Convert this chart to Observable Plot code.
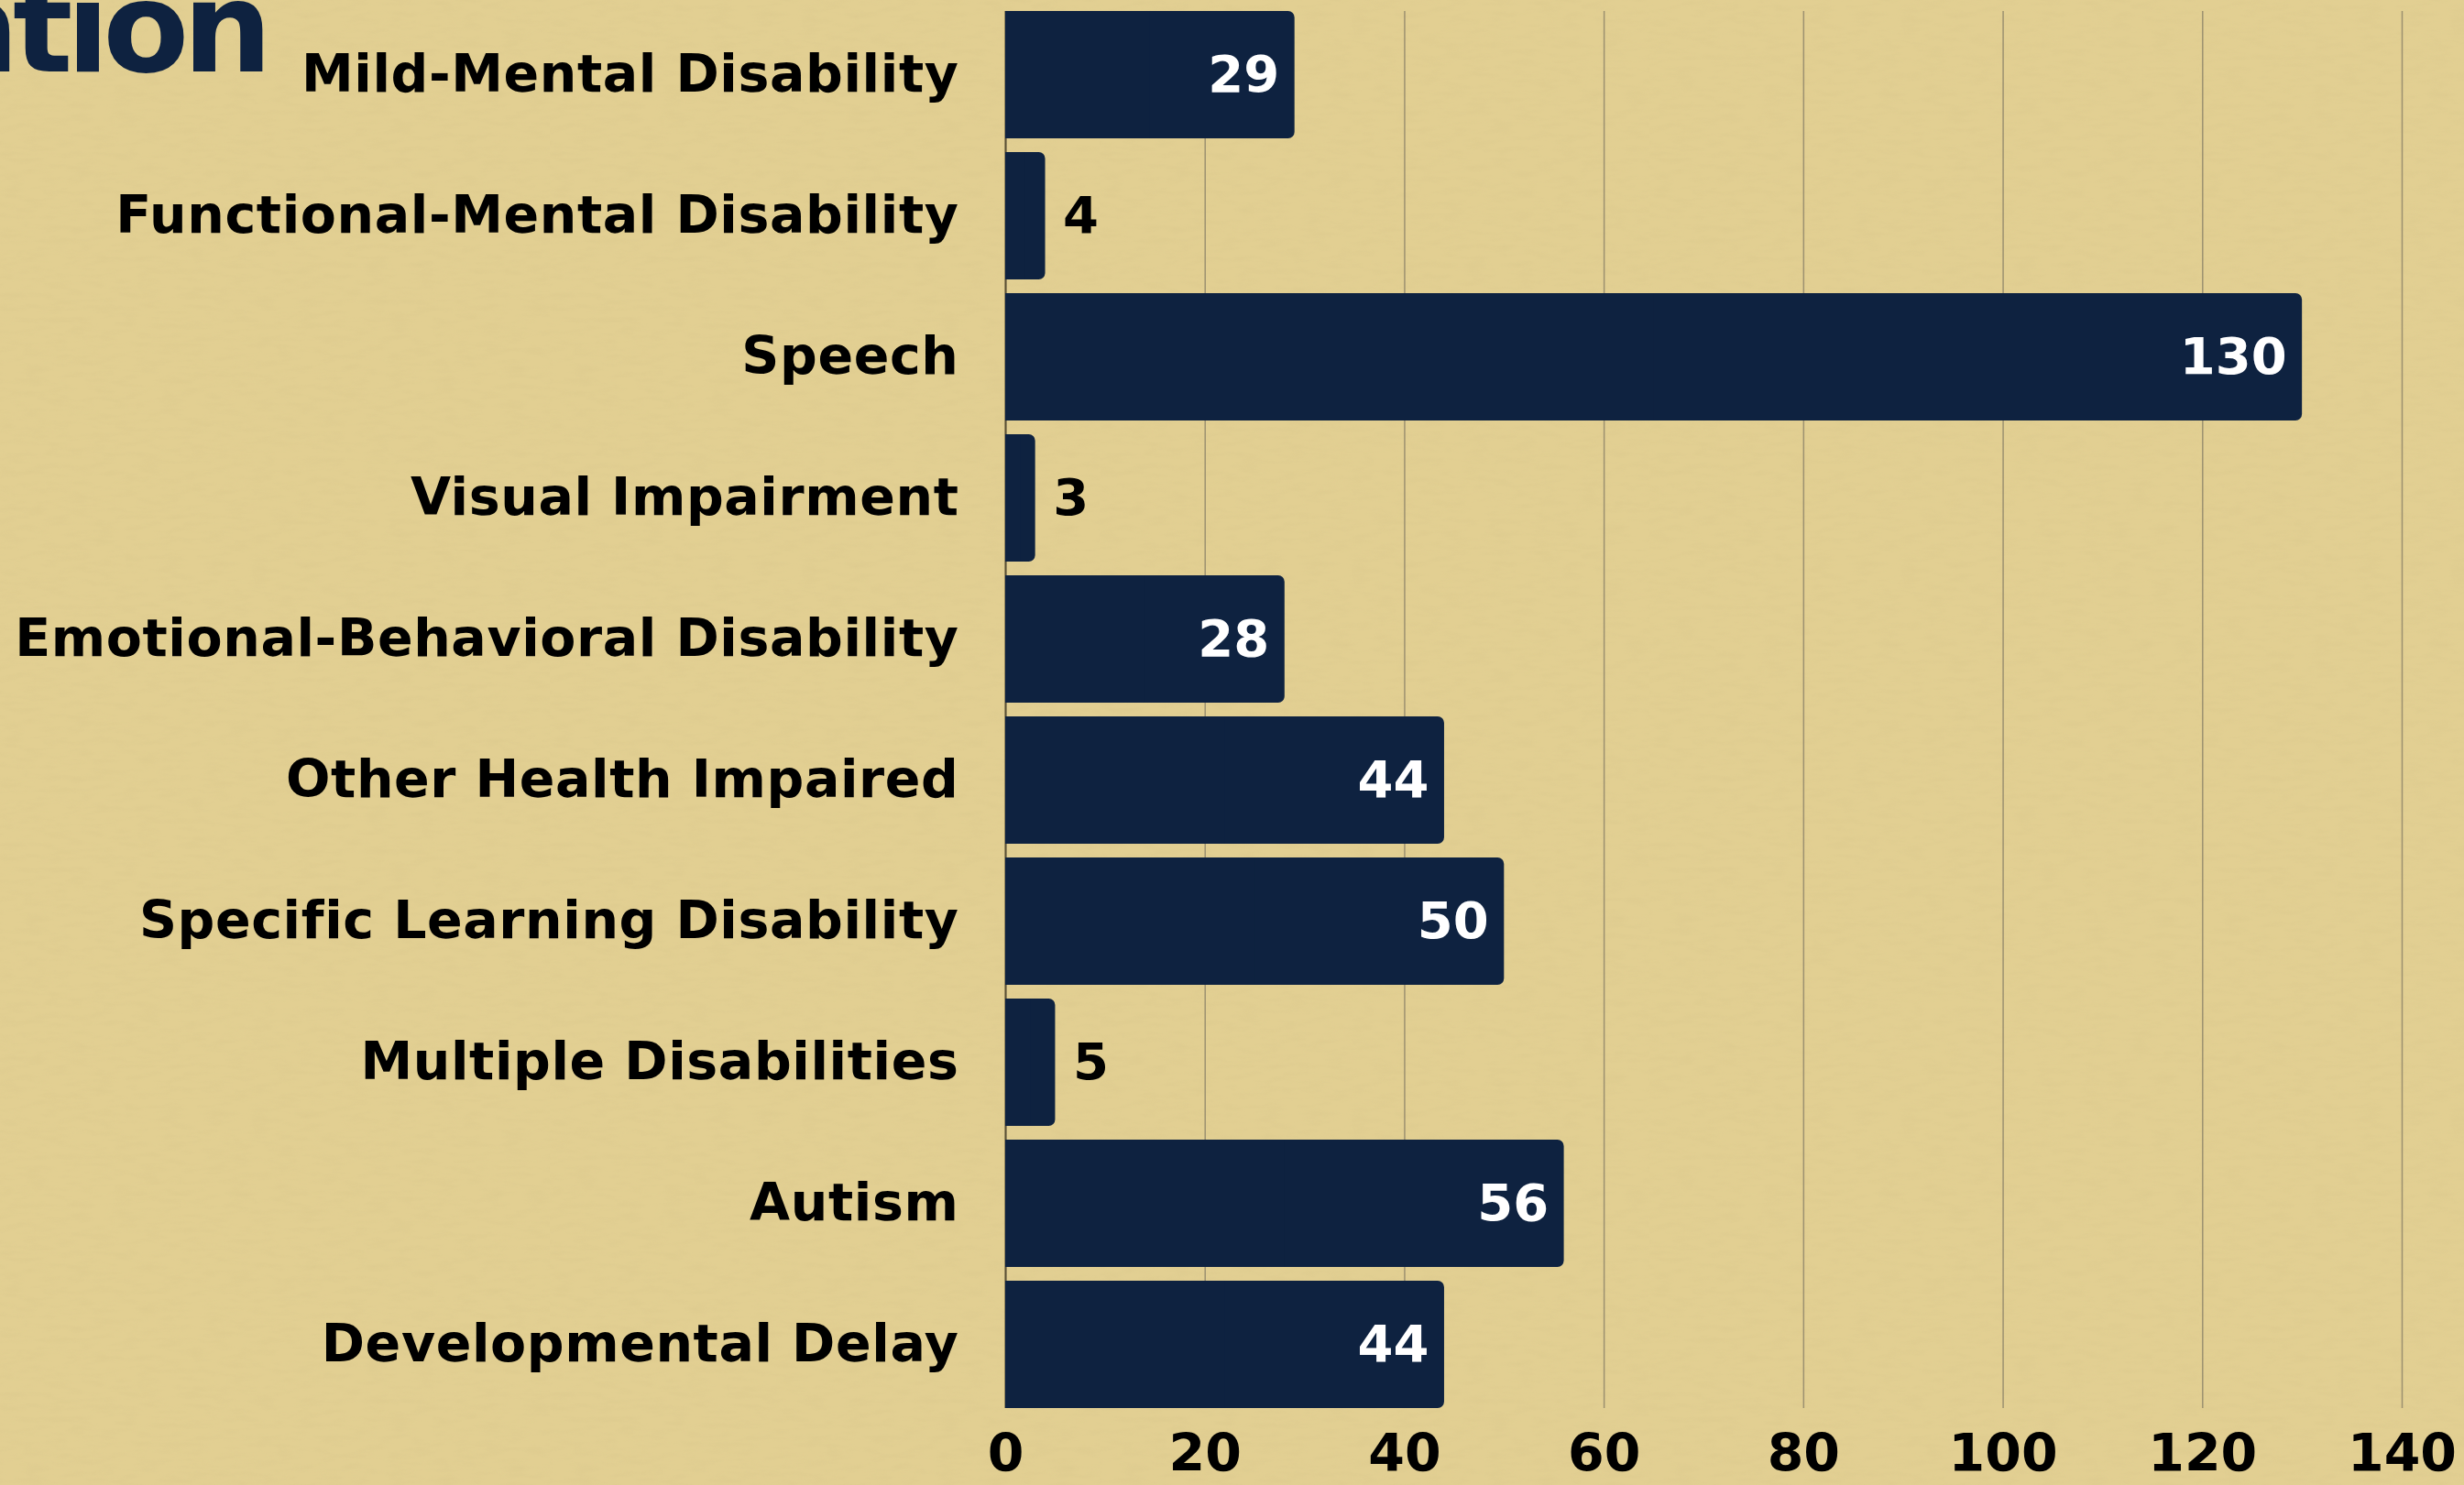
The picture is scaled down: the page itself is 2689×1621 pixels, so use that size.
<!DOCTYPE html>
<html>
<head>
<meta charset="utf-8">
<script src="https://cdn.jsdelivr.net/npm/d3@7"></script>
<script src="https://cdn.jsdelivr.net/npm/@observablehq/plot@0.6"></script>
<style>
  html, body { margin: 0; padding: 0; }
  body {
    width: 2689px; height: 1621px; overflow: hidden; position: relative;
    background-color: #e2cf92;
    background-image: url("data:image/svg+xml;utf8,<svg xmlns='http://www.w3.org/2000/svg' width='600' height='600'><filter id='n'><feTurbulence type='fractalNoise' baseFrequency='0.04 0.15' numOctaves='3' seed='4'/><feColorMatrix values='0 0 0 0 0.55  0 0 0 0 0.45  0 0 0 0 0.2  0 0 0 0.9 -0.35'/></filter><rect width='600' height='600' filter='url(%23n)' opacity='0.25'/></svg>");
  }
  #title {
    position: absolute; top: -38px; right: calc(100% - 290px);
    font-family: "DejaVu Sans", sans-serif; font-weight: bold;
    font-size: 137px; line-height: 1; letter-spacing: -7px;
    color: #0e2240; white-space: nowrap;
  }
  #chart { position: absolute; left: 0; top: 0; }
  #chart svg g[aria-label="y-axis tick label"] text { letter-spacing: 0.6px; }
</style>
</head>
<body>
<div id="title">Special Education</div>
<div id="chart"></div>
<script>
const categories = [
  "Mild-Mental Disability",
  "Functional-Mental Disability",
  "Speech",
  "Visual Impairment",
  "Emotional-Behavioral Disability",
  "Other Health Impaired",
  "Specific Learning Disability",
  "Multiple Disabilities",
  "Autism",
  "Developmental Delay"
];
const values = [29, 4, 130, 3, 28, 44, 50, 5, 56, 44];
const xTicks = [0, 20, 40, 60, 80, 100, 120, 140];

const data = categories.map((c, i) => ({category: c, value: values[i]}));
const inside = data.filter(d => d.value >= 10);
const outside = data.filter(d => d.value < 10);

const navy = "#0e2240";

const chart = Plot.plot({
  width: 2689,
  height: 1621,
  marginLeft: 1097,
  marginRight: 68,
  marginTop: 12,
  marginBottom: 84,
  style: {
    background: "transparent",
    fontFamily: "'DejaVu Sans', sans-serif",
    fontWeight: "bold",
    fontSize: "57px",
    color: "#000"
  },
  x: {domain: [0, 140], ticks: xTicks, label: null},
  y: {domain: categories, paddingInner: 0.1, paddingOuter: 0, round: true, label: null},
  marks: [
    Plot.gridX(xTicks, {stroke: "#9c9170", strokeOpacity: 1, strokeWidth: 1.5}),
    Plot.ruleX([0], {stroke: "#5a5034", strokeWidth: 2}),
    Plot.barX(data, {y: "category", x: "value", fill: navy, rx: 7}),
    Plot.barX(data, {y: "category", x1: 0, x2: d => d.value / 2, fill: navy}),
    Plot.text(inside, {y: "category", x: "value", text: d => String(d.value), fill: "#ffffff", textAnchor: "end", dx: -17, fontSize: 56, fontWeight: "bold"}),
    Plot.text(outside, {y: "category", x: "value", text: d => String(d.value), fill: "#000000", textAnchor: "start", dx: 19, fontSize: 56, fontWeight: "bold"}),
    Plot.axisX({ticks: xTicks, tickSize: 0, tickPadding: 28, label: null, fontSize: 57}),
    Plot.axisY({tickSize: 0, tickPadding: 51, label: null, fontSize: 57})
  ]
});
document.getElementById("chart").appendChild(chart);
</script>
</body>
</html>
